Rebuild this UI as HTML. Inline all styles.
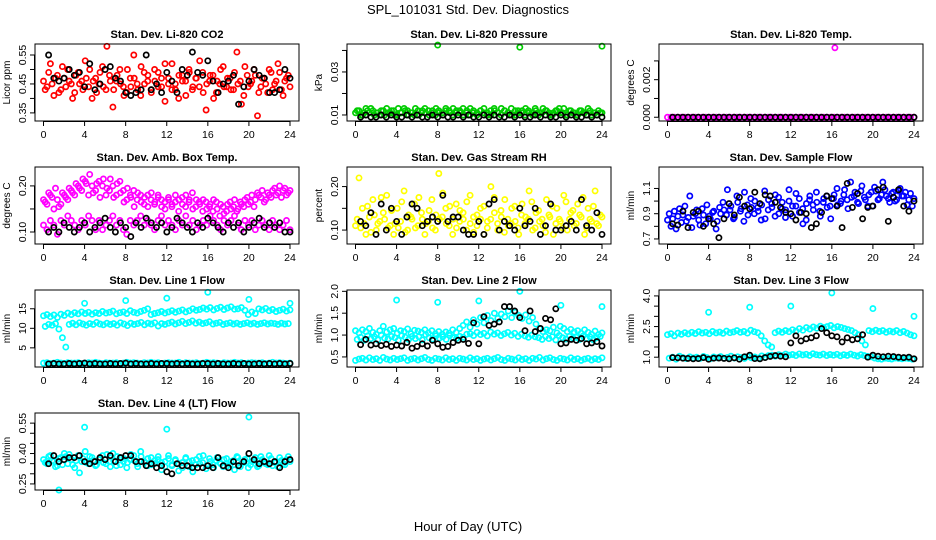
<!DOCTYPE html>
<html><head><meta charset="utf-8">
<style>
html,body{margin:0;padding:0;background:#fff;}
svg{display:block;font-family:"Liberation Sans",Arial,sans-serif;}
</style></head>
<body>
<svg id="chart" width="936" height="540" viewBox="0 0 936 540" xmlns="http://www.w3.org/2000/svg">
<text x="468" y="14" text-anchor="middle" font-size="13">SPL_101031  Std. Dev. Diagnostics</text>
<text x="468" y="531" text-anchor="middle" font-size="13">Hour of Day (UTC)</text>
</svg>
<script>
// ---------- data ----------
const xTicks = [0,4,8,12,16,20,24];
const co2A = [0.46,0.44,0.52,0.41,0.48,0.43,0.47,0.50,0.45,0.42,0.49,0.46,0.53,0.44,0.40,0.47,0.45,0.51,0.43,0.48,0.37,0.46,0.50,0.44,0.42,0.47,0.55,0.45,0.41,0.49,0.46,0.43,0.50,0.44,0.47,0.39,0.45,0.52,0.43,0.48,0.46,0.41,0.49,0.44,0.47,0.53,0.42,0.45,0.48,0.40,0.46,0.50,0.44,0.47,0.43,0.49,0.45,0.38,0.51,0.44,0.46,0.48,0.42,0.47,0.45,0.50,0.43,0.46,0.49,0.41,0.47,0.44];
const co2B = [0.43,0.49,0.45,0.47,0.42,0.51,0.44,0.46,0.40,0.48,0.45,0.43,0.47,0.50,0.46,0.42,0.49,0.44,0.58,0.46,0.43,0.48,0.45,0.41,0.50,0.44,0.47,0.43,0.51,0.45,0.48,0.42,0.46,0.49,0.44,0.52,0.47,0.43,0.45,0.40,0.48,0.46,0.50,0.43,0.47,0.44,0.49,0.36,0.46,0.48,0.42,0.45,0.51,0.44,0.47,0.43,0.56,0.46,0.41,0.48,0.45,0.50,0.34,0.44,0.47,0.42,0.49,0.45,0.52,0.43,0.46,0.48];
const co2Black = [0.55,0.47,0.46,0.47,0.50,0.48,0.49,0.44,0.52,0.43,0.45,0.50,0.51,0.47,0.46,0.42,0.41,0.42,0.43,0.55,0.43,0.45,0.42,0.49,0.46,0.42,0.50,0.48,0.56,0.49,0.48,0.53,0.46,0.42,0.45,0.46,0.48,0.38,0.44,0.46,0.50,0.48,0.47,0.42,0.42,0.43,0.50,0.47];
const presA = [0.011,0.012,0.010,0.013,0.011,0.012,0.011,0.010,0.012,0.013,0.011,0.012,0.010,0.011,0.013,0.012,0.011,0.010,0.012,0.011,0.013,0.012,0.011,0.010,0.012,0.011,0.013,0.012,0.010,0.011,0.012,0.013,0.011,0.010,0.012,0.011,0.012,0.013,0.011,0.010,0.012,0.011,0.013,0.012,0.011,0.010,0.012,0.011,0.012,0.013,0.011,0.010,0.012,0.011,0.013,0.012,0.010,0.011,0.012,0.011,0.013,0.010,0.012,0.011,0.010,0.012,0.011,0.013,0.010,0.011,0.012,0.011];
const presB = [0.012,0.010,0.011,0.012,0.013,0.010,0.011,0.012,0.010,0.011,0.012,0.010,0.013,0.011,0.012,0.010,0.011,0.013,0.010,0.012,0.011,0.010,0.012,0.013,0.011,0.010,0.012,0.011,0.013,0.012,0.011,0.010,0.012,0.013,0.011,0.010,0.012,0.011,0.010,0.012,0.013,0.011,0.010,0.012,0.011,0.013,0.010,0.012,0.011,0.010,0.012,0.011,0.013,0.010,0.011,0.012,0.011,0.010,0.012,0.013,0.011,0.010,0.012,0.011,0.010,0.012,0.011,0.010,0.012,0.011,0.010,0.011];
const presBlack = [0.009,0.010,0.009,0.009,0.010,0.009,0.010,0.009,0.009,0.010,0.009,0.010,0.009,0.009,0.010,0.009,0.010,0.009,0.009,0.010,0.009,0.010,0.009,0.009,0.010,0.009,0.010,0.009,0.009,0.010,0.009,0.010,0.009,0.009,0.010,0.009,0.010,0.009,0.009,0.010,0.009,0.010,0.009,0.009,0.010,0.009,0.010,0.009];
const presOutHours = [8,16,24];
const presOut = [0.0425,0.0415,0.0420];
const tempA = [0,0,0,0,0,0,0,0,0,0,0,0,0,0,0,0,0,0,0,0,0,0,0,0,0,0,0,0,0,0,0,0,0,0,0,0,0,0,0,0,0,0,0,0,0,0,0,0,0,0,0,0,0,0,0,0,0,0,0,0,0,0,0,0,0,0,0,0,0,0,0,0];
const tempBlack = [0,0,0,0,0,0,0,0,0,0,0,0,0,0,0,0,0,0,0,0,0,0,0,0,0,0,0,0,0,0,0,0,0,0,0,0,0,0,0,0,0,0,0,0,0,0,0,0];
const tempOutHours = [16.3];
const tempOut = [0.0037];
const ambUpperA = [0.17,0.16,0.18,0.15,0.17,0.16,0.18,0.17,0.19,0.18,0.20,0.19,0.21,0.18,0.20,0.19,0.21,0.20,0.18,0.19,0.20,0.18,0.21,0.19,0.17,0.18,0.19,0.17,0.18,0.16,0.18,0.17,0.16,0.18,0.17,0.15,0.17,0.16,0.18,0.17,0.16,0.18,0.17,0.15,0.17,0.16,0.17,0.15,0.16,0.17,0.15,0.16,0.14,0.16,0.15,0.17,0.15,0.16,0.17,0.16,0.18,0.17,0.18,0.19,0.17,0.18,0.19,0.18,0.20,0.19,0.18,0.19];
const ambUpperB = [0.165,0.185,0.175,0.195,0.155,0.185,0.175,0.195,0.185,0.205,0.195,0.215,0.205,0.225,0.185,0.205,0.175,0.215,0.195,0.215,0.175,0.205,0.185,0.165,0.195,0.175,0.155,0.185,0.165,0.175,0.155,0.185,0.165,0.175,0.155,0.165,0.175,0.155,0.165,0.145,0.175,0.155,0.165,0.185,0.155,0.165,0.145,0.165,0.155,0.145,0.165,0.135,0.155,0.145,0.165,0.155,0.145,0.165,0.155,0.175,0.165,0.155,0.185,0.175,0.165,0.185,0.175,0.195,0.185,0.175,0.195,0.185];
const ambLower = [0.115,0.105,0.125,0.115,0.095,0.125,0.115,0.135,0.125,0.115,0.105,0.125,0.115,0.135,0.125,0.105,0.125,0.105,0.115,0.125,0.135,0.115,0.125,0.105,0.095,0.125,0.115,0.125,0.135,0.115,0.125,0.115,0.105,0.125,0.135,0.115,0.125,0.115,0.105,0.125,0.115,0.135,0.115,0.125,0.105,0.115,0.125,0.115,0.135,0.125,0.115,0.105,0.125,0.115,0.125,0.135,0.115,0.105,0.125,0.115,0.125,0.105,0.115,0.125,0.115,0.105,0.125,0.115,0.105,0.115,0.125,0.105];
const ambBlack = [0.10,0.11,0.10,0.12,0.11,0.10,0.11,0.12,0.10,0.11,0.12,0.13,0.11,0.10,0.12,0.11,0.09,0.12,0.11,0.13,0.12,0.11,0.12,0.10,0.11,0.13,0.12,0.11,0.10,0.12,0.11,0.13,0.12,0.11,0.10,0.12,0.11,0.12,0.10,0.11,0.12,0.13,0.11,0.12,0.11,0.12,0.10,0.10];
const rhA = [0.11,0.22,0.15,0.09,0.13,0.17,0.10,0.12,0.14,0.18,0.11,0.09,0.15,0.12,0.19,0.10,0.13,0.16,0.11,0.14,0.09,0.12,0.17,0.10,0.23,0.13,0.15,0.11,0.09,0.16,0.12,0.14,0.10,0.18,0.13,0.11,0.15,0.09,0.12,0.20,0.14,0.10,0.13,0.17,0.11,0.15,0.12,0.09,0.16,0.13,0.19,0.10,0.14,0.12,0.11,0.17,0.13,0.09,0.15,0.12,0.18,0.10,0.14,0.11,0.16,0.13,0.09,0.15,0.12,0.19,0.11,0.13];
const rhB = [0.125,0.105,0.115,0.155,0.095,0.135,0.115,0.175,0.125,0.105,0.145,0.115,0.105,0.165,0.095,0.135,0.125,0.105,0.175,0.125,0.115,0.145,0.105,0.135,0.125,0.185,0.115,0.155,0.125,0.105,0.145,0.125,0.165,0.115,0.095,0.135,0.125,0.155,0.105,0.125,0.175,0.115,0.145,0.095,0.125,0.115,0.155,0.105,0.135,0.115,0.125,0.165,0.105,0.145,0.125,0.095,0.135,0.155,0.115,0.125,0.105,0.165,0.125,0.145,0.115,0.135,0.175,0.105,0.125,0.155,0.115,0.135];
const rhBlack = [0.12,0.11,0.14,0.09,0.16,0.10,0.15,0.12,0.09,0.13,0.16,0.15,0.11,0.12,0.13,0.12,0.18,0.12,0.13,0.13,0.10,0.09,0.09,0.12,0.09,0.16,0.17,0.10,0.12,0.11,0.10,0.15,0.11,0.12,0.15,0.09,0.11,0.16,0.10,0.10,0.11,0.12,0.10,0.17,0.11,0.10,0.14,0.09];
const flowA = [0.85,0.80,0.92,0.88,0.83,0.96,0.87,0.79,0.90,0.85,0.94,0.82,0.88,0.91,0.78,0.95,0.99,0.89,0.93,0.86,1.04,0.92,0.84,0.97,1.02,0.90,0.95,0.85,1.08,0.93,0.98,0.88,1.03,0.94,0.87,1.00,0.96,1.06,0.91,0.82,0.98,1.04,0.93,0.99,0.88,1.02,0.95,0.86,1.05,0.97,1.00,1.09,0.94,1.03,1.07,0.98,1.12,1.01,1.05,0.96,1.08,1.02,1.15,1.04,0.99,1.07,1.01,1.10,1.04,0.97,1.06,1.02];
const flowB = [0.90,0.86,0.78,0.94,0.89,0.84,1.04,0.88,0.93,0.81,0.89,0.97,0.86,0.92,0.84,0.90,0.93,1.09,0.96,0.87,0.99,0.94,1.07,0.89,0.95,1.00,0.92,0.97,0.86,1.01,0.95,1.05,0.90,0.99,0.93,1.09,0.88,0.96,1.02,0.94,0.85,1.01,0.97,1.07,0.92,0.99,1.04,0.96,1.02,1.10,0.98,1.05,1.01,1.15,1.04,0.99,1.08,1.03,0.96,1.07,1.11,1.01,1.05,1.09,1.02,1.06,1.00,1.08,1.04,1.07,1.01,0.96];
const flowBlack = [0.82,0.81,0.92,0.79,0.91,0.92,0.80,0.86,0.82,0.71,0.86,0.98,0.89,1.03,0.96,0.94,1.07,0.98,1.05,1.04,0.99,0.95,0.91,0.90,0.85,0.91,0.90,0.79,0.82,0.91,1.04,1.02,0.96,0.79,1.14,0.95,1.06,0.86,0.95,0.96,1.09,1.11,0.84,1.03,1.09,0.96,0.92,1.00];
const l1Upper = [13.2,13.5,13.0,13.4,12.8,13.6,13.3,13.9,13.5,14.0,13.7,14.2,13.8,14.1,13.6,14.0,13.8,14.3,13.9,14.1,14.4,13.7,14.0,14.2,13.8,14.5,14.1,13.9,14.3,14.6,15.0,13.5,13.8,14.0,14.3,13.9,14.2,14.5,14.1,14.4,14.7,14.2,14.5,15.0,14.6,14.8,15.2,14.9,15.3,14.7,15.1,15.4,14.8,15.2,15.5,14.9,15.0,15.3,14.6,13.5,14.2,13.8,15.0,14.7,15.1,14.5,14.8,14.3,14.6,14.9,14.4,14.7];
const l1Mid = [10.5,11.0,10.8,11.2,9.8,7.6,5.2,11.0,11.3,10.9,11.4,11.1,10.8,11.2,11.0,11.5,11.1,10.9,11.3,11.0,11.2,10.8,11.4,11.1,10.7,11.3,11.0,11.2,11.5,10.9,11.3,11.1,11.4,10.6,11.2,11.0,11.3,11.6,11.1,11.4,11.8,11.2,11.5,11.9,11.3,11.6,11.2,11.4,11.7,11.1,11.3,11.5,11.0,11.2,11.4,11.1,11.3,11.0,11.2,11.4,11.1,11.3,11.0,11.2,11.4,11.1,11.3,11.2,11.0,11.3,11.1,11.2];
const l1Low = [1.1,1.2,1.0,1.1,1.3,1.1,1.0,1.2,1.1,1.1,1.2,1.0,1.1,1.2,1.1,1.3,1.1,1.0,1.2,1.1,1.1,1.2,1.0,1.1,1.3,1.1,1.2,1.1,1.0,1.2,1.1,1.3,1.1,1.2,1.0,1.1,1.2,1.1,1.1,1.3,1.0,1.2,1.1,1.1,1.2,1.0,1.1,1.3,1.1,1.2,1.1,1.0,1.2,1.1,1.1,1.3,1.1,1.2,1.0,1.1,1.2,1.1,1.1,1.2,1.0,1.1,1.3,1.1,1.2,1.1,1.0,1.1];
const l1Black = [0.9,1.0,0.9,0.9,1.0,0.9,1.0,1.1,0.9,1.0,0.9,0.9,1.0,0.9,1.0,1.1,0.9,1.0,0.9,0.9,1.0,0.9,1.0,1.0,0.9,1.0,0.9,1.0,0.9,0.9,1.0,1.0,0.9,1.0,0.9,0.9,1.0,0.9,1.0,0.9,0.9,1.0,0.9,1.0,0.9,1.0,0.9,1.0];
const l1OutHours = [4,8,12,16,20,24];
const l1Out = [16.4,17.1,17.7,19.2,17.4,16.4];
const l2Upper = [1.10,1.05,1.12,1.08,1.15,1.06,1.02,1.10,1.20,1.07,1.12,1.15,1.04,1.10,1.08,1.14,1.03,1.11,1.09,1.06,1.12,1.05,1.10,1.03,1.08,1.02,1.07,1.04,1.12,1.06,1.15,1.22,1.30,1.18,1.35,1.25,1.40,1.28,1.45,1.33,1.50,1.38,1.48,1.42,1.55,1.40,1.52,1.45,1.38,1.46,1.32,1.40,1.25,1.15,1.08,1.12,1.10,1.18,1.05,1.20,1.15,1.08,1.13,1.07,1.10,1.04,1.12,1.06,1.02,1.09,1.01,1.05];
const l2UpperB = [0.90,0.95,0.88,0.98,0.92,0.96,0.89,1.00,0.93,0.91,0.97,0.94,0.88,0.99,0.95,0.90,0.97,0.92,0.96,0.89,1.01,0.94,0.91,0.98,0.93,0.96,0.90,0.99,0.94,0.92,0.97,0.95,1.02,1.03,0.99,1.06,1.01,1.04,0.98,1.07,1.02,1.05,0.99,1.03,1.06,1.00,1.04,0.97,1.02,0.98,0.95,1.00,0.96,0.94,0.90,0.97,0.92,0.96,0.89,0.99,0.94,0.91,0.97,0.93,0.95,0.90,0.98,0.92,0.96,0.89,0.94,0.97];
const l2Low = [0.42,0.45,0.47,0.43,0.48,0.44,0.46,0.42,0.49,0.45,0.43,0.47,0.44,0.46,0.48,0.42,0.45,0.47,0.43,0.46,0.49,0.44,0.42,0.47,0.45,0.43,0.48,0.44,0.46,0.42,0.47,0.45,0.43,0.48,0.44,0.46,0.42,0.45,0.47,0.43,0.46,0.49,0.44,0.42,0.47,0.45,0.43,0.48,0.44,0.46,0.42,0.47,0.45,0.49,0.43,0.46,0.48,0.44,0.42,0.47,0.45,0.43,0.48,0.44,0.46,0.42,0.45,0.47,0.43,0.46,0.44,0.48];
const l2Black = [0.78,0.90,0.77,0.80,0.76,0.79,0.74,0.77,0.75,0.83,0.70,0.74,0.80,0.75,0.88,0.80,0.72,0.74,0.83,0.88,0.90,0.81,1.28,0.80,1.42,1.22,1.25,1.30,1.65,1.65,1.55,1.40,1.10,1.55,1.08,1.15,1.38,1.35,1.60,0.80,0.82,0.90,0.88,0.92,0.80,0.82,0.85,0.75];
const l2OutHours = [4,8,12,16,20,24];
const l2Out = [1.8,1.75,1.78,2.0,1.68,1.65];
const l3Upper = [2.10,2.15,2.05,2.18,2.12,2.20,2.14,2.22,2.16,2.25,2.18,2.22,2.15,2.26,2.19,2.23,2.17,2.28,2.20,2.24,2.30,2.22,2.26,2.18,2.32,2.25,2.20,2.05,1.80,1.60,1.50,2.20,2.28,2.22,2.30,2.25,2.34,2.28,2.40,2.32,2.45,2.38,2.48,2.42,2.52,2.45,2.50,2.55,2.44,2.50,2.46,2.40,2.35,2.30,2.20,2.10,1.80,1.60,2.30,2.25,2.32,2.26,2.30,2.22,2.28,2.24,2.30,2.20,2.26,2.18,2.10,2.05];
const l3Low = [0.95,1.00,0.90,1.05,0.98,0.93,1.02,0.96,1.00,0.94,1.04,0.98,0.92,1.01,0.97,1.03,0.95,0.99,1.05,0.96,1.02,0.98,0.94,1.03,0.97,1.01,0.95,1.06,1.00,1.08,1.10,1.05,1.12,1.08,1.15,1.10,1.13,1.08,1.16,1.11,1.14,1.09,1.17,1.12,1.10,1.15,1.08,1.13,1.10,1.14,1.07,1.12,1.09,1.15,1.10,1.06,1.12,1.08,1.04,1.02,0.96,0.92,0.90,0.95,0.93,0.91,0.96,0.94,0.92,0.95,0.93,0.90];
const l3Black = [0.98,0.97,0.95,0.94,0.92,0.93,0.98,0.90,0.95,0.96,0.94,0.92,0.97,0.90,1.02,1.10,0.93,0.92,0.98,1.04,1.08,1.05,1.02,1.70,2.05,1.80,1.90,1.95,2.05,2.40,2.20,2.05,2.00,1.75,1.95,1.85,1.90,2.10,1.00,1.10,1.05,1.02,1.05,1.03,1.00,0.98,1.00,0.92];
const l3OutHours = [4,8,12,16,20,24];
const l3Out = [3.2,3.45,3.5,4.15,3.38,3.0];
const l4A = [0.37,0.35,0.39,0.36,0.34,0.38,0.40,0.35,0.37,0.33,0.39,0.36,0.41,0.35,0.38,0.34,0.37,0.39,0.35,0.36,0.40,0.34,0.38,0.36,0.33,0.37,0.39,0.35,0.41,0.36,0.34,0.38,0.35,0.37,0.32,0.36,0.39,0.34,0.37,0.35,0.33,0.38,0.36,0.31,0.37,0.35,0.39,0.34,0.36,0.33,0.38,0.35,0.37,0.34,0.36,0.32,0.38,0.35,0.37,0.33,0.36,0.38,0.34,0.37,0.35,0.39,0.34,0.36,0.38,0.35,0.37,0.36];
const l4B = [0.355,0.385,0.365,0.335,0.375,0.345,0.385,0.395,0.345,0.365,0.305,0.375,0.355,0.385,0.365,0.345,0.375,0.355,0.395,0.335,0.365,0.385,0.345,0.375,0.355,0.395,0.365,0.335,0.385,0.355,0.375,0.345,0.365,0.385,0.355,0.335,0.375,0.345,0.365,0.315,0.355,0.375,0.335,0.365,0.345,0.385,0.355,0.325,0.375,0.345,0.365,0.355,0.335,0.375,0.345,0.365,0.385,0.335,0.355,0.375,0.345,0.365,0.335,0.385,0.355,0.345,0.375,0.355,0.335,0.365,0.345,0.385];
const l4Black = [0.35,0.39,0.36,0.37,0.38,0.38,0.39,0.36,0.35,0.36,0.38,0.37,0.39,0.36,0.38,0.39,0.39,0.36,0.36,0.34,0.35,0.33,0.34,0.31,0.30,0.35,0.34,0.34,0.33,0.33,0.33,0.34,0.33,0.38,0.34,0.33,0.36,0.34,0.36,0.40,0.37,0.35,0.36,0.35,0.36,0.33,0.36,0.37];
const l4OutHours = [1.5,4,12,20];
const l4Out = [0.22,0.53,0.52,0.58];

// ---------- layout ----------
const NS = "http://www.w3.org/2000/svg";
const svg = document.getElementById('chart');
const colLeft = [35,347,659], rowTop = [44,167,290,413], W = 264, H = 77;
const CYAN = '#00ffff';

const panels = [
 {name:'co2', title:'Stan. Dev. Li-820 CO2', ylab:'Licor ppm', col:0,row:0, dom:[0.322,0.588], ticks:[0.35,0.40,0.45,0.50,0.55], labs:['0.35','','0.45','','0.55'],
  series:[[co2A,'#ff0000',0],[co2B,'#ff0000',1],[co2Black,'#000',2]], out:null},
 {name:'pressure', title:'Stan. Dev. Li-820 Pressure', ylab:'kPa', col:1,row:0, dom:[0.0072,0.043], ticks:[0.01,0.02,0.03,0.04], labs:['0.01','','0.03',''],
  series:[[presA,'#00cc00',0],[presB,'#00cc00',1],[presBlack,'#000',2]], out:[presOutHours,presOut,'#00cc00']},
 {name:'li820-temp', title:'Stan. Dev. Li-820 Temp.', ylab:'degrees C', col:2,row:0, dom:[-0.0002,0.0039], ticks:[0,0.001,0.002,0.003], labs:['0.000','','0.002',''],
  series:[[tempA,'#ff00ff',0],[tempBlack,'#000',2]], out:[tempOutHours,tempOut,'#ff00ff']},
 {name:'amb-box-temp', title:'Stan. Dev. Amb. Box Temp.', ylab:'degrees C', col:0,row:1, dom:[0.074,0.241], ticks:[0.10,0.15,0.20], labs:['0.10','','0.20'],
  series:[[ambUpperA,'#ff00ff',0],[ambUpperB,'#ff00ff',1],[ambLower,'#ff00ff',0],[ambBlack,'#000',2]], out:null},
 {name:'gas-stream-rh', title:'Stan. Dev. Gas Stream RH', ylab:'percent', col:1,row:1, dom:[0.068,0.245], ticks:[0.10,0.15,0.20], labs:['0.10','','0.20'],
  series:[[rhA,'#ffff00',0],[rhB,'#ffff00',1],[rhBlack,'#000',2]], out:null},
 {name:'sample-flow', title:'Stan. Dev. Sample Flow', ylab:'ml/min', col:2,row:1, dom:[0.66,1.27], ticks:[0.7,0.8,0.9,1.0,1.1], labs:['0.7','','0.9','','1.1'],
  series:[[flowA,'#0000ff',0],[flowB,'#0000ff',1],[flowBlack,'#000',2]], out:null},
 {name:'line1-flow', title:'Stan. Dev. Line 1 Flow', ylab:'ml/min', col:0,row:2, dom:[0.1,19.8], ticks:[5,10,15], labs:['5','10','15'],
  series:[[l1Upper,CYAN,0],[l1Mid,CYAN,1],[l1Low,CYAN,0],[l1Black,'#000',2]], out:[l1OutHours,l1Out,CYAN]},
 {name:'line2-flow', title:'Stan. Dev. Line 2 Flow', ylab:'ml/min', col:1,row:2, dom:[0.27,2.03], ticks:[0.5,1.0,1.5,2.0], labs:['0.5','1.0','1.5','2.0'],
  series:[[l2Upper,CYAN,0],[l2UpperB,CYAN,1],[l2Low,CYAN,0],[l2Black,'#000',2]], out:[l2OutHours,l2Out,CYAN]},
 {name:'line3-flow', title:'Stan. Dev. Line 3 Flow', ylab:'ml/min', col:2,row:2, dom:[0.52,4.29], ticks:[1.0,1.5,2.0,2.5,3.0,3.5,4.0], labs:['1.0','','','2.5','','','4.0'],
  series:[[l3Upper,CYAN,0],[l3Low,CYAN,1],[l3Black,'#000',2]], out:[l3OutHours,l3Out,CYAN]},
 {name:'line4-flow', title:'Stan. Dev. Line 4 (LT) Flow', ylab:'ml/min', col:0,row:3, dom:[0.22,0.60], ticks:[0.25,0.30,0.35,0.40,0.45,0.50,0.55], labs:['0.25','','','0.40','','','0.55'],
  series:[[l4A,CYAN,0],[l4B,CYAN,1],[l4Black,'#000',2]], out:[l4OutHours,l4Out,CYAN]}
];

function mk(tag, attrs, parent){
  const e = document.createElementNS(NS, tag);
  for (const k in attrs) e.setAttribute(k, attrs[k]);
  (parent||svg).appendChild(e);
  return e;
}

panels.forEach(p => {
  const L = colLeft[p.col], T = rowTop[p.row];
  const g = mk('g', {});
  
  
  const xs = h => L + 8.5 + h * 246.5 / 24;
  const ys = v => T + H - (v - p.dom[0]) / (p.dom[1] - p.dom[0]) * H;

  const clipId = 'clip-' + p.name;
  const cp = mk('clipPath', {id: clipId}, g);
  mk('rect', {x: L, y: T - 4, width: W, height: H + 8}, cp);
  const pts = mk('g', {'clip-path': 'url(#' + clipId + ')', fill: 'none', 'stroke-width': 1.7}, g);
  
  

  p.series.forEach(s => {
    const vals = s[0], color = s[1], kind = s[2];
    const n = vals.length;
    vals.forEach((v, i) => {
      let h;
      if (kind === 2) h = 0.5 + i * 23.5 / (n - 1);
      else if (kind === 1) h = 0.17 + i * 23.66 / (n - 1);
      else h = i * 24 / (n - 1);
      const c = mk('circle', {cx: xs(h).toFixed(1), cy: ys(v).toFixed(1), r: 2.6, stroke: color}, pts);
      
      
    });
  });
  if (p.out) {
    p.out[0].forEach((h, i) => {
      const c = mk('circle', {cx: xs(h).toFixed(1), cy: ys(p.out[1][i]).toFixed(1), r: 2.6, stroke: p.out[2]}, pts);
      
      
    });
  }

  const box = mk('rect', {x: L, y: T, width: W, height: H, fill: 'none', stroke: '#000', 'stroke-width': 1}, g);
  
  

  const tt = mk('text', {x: L + W / 2, y: T - 6, 'text-anchor': 'middle', 'font-size': 11, 'font-weight': 'bold'}, g);
  tt.textContent = p.title;
  
  

  mk('line', {x1: xs(0), x2: xs(24), y1: T + H + 0.5, y2: T + H + 0.5, stroke: '#000'}, g);
  xTicks.forEach(t => {
    mk('line', {x1: xs(t), x2: xs(t), y1: T + H, y2: T + H + 5, stroke: '#000'}, g);
    const tl = mk('text', {x: xs(t), y: T + H + 17, 'text-anchor': 'middle', 'font-size': 10.5}, g);
    tl.textContent = t;
    
    
  });
  const y0 = ys(p.ticks[0]), y1 = ys(p.ticks[p.ticks.length - 1]);
  mk('line', {x1: L - 0.5, x2: L - 0.5, y1: y0, y2: y1, stroke: '#000'}, g);
  p.ticks.forEach((t, i) => {
    const y = ys(t);
    mk('line', {x1: L - 5, x2: L, y1: y, y2: y, stroke: '#000'}, g);
    if (p.labs[i]) {
      const yl = mk('text', {x: L - 9, y: y, 'text-anchor': 'middle', 'font-size': 10.5, transform: 'rotate(-90 ' + (L - 9) + ' ' + y + ')'}, g);
      yl.textContent = p.labs[i];
      
      
    }
  });
  const yt = mk('text', {x: L - 25, y: T + H / 2, 'text-anchor': 'middle', 'font-size': 10, transform: 'rotate(-90 ' + (L - 25) + ' ' + (T + H / 2) + ')'}, g);
  yt.textContent = p.ylab;
  
  
});
</script>
</body></html>
